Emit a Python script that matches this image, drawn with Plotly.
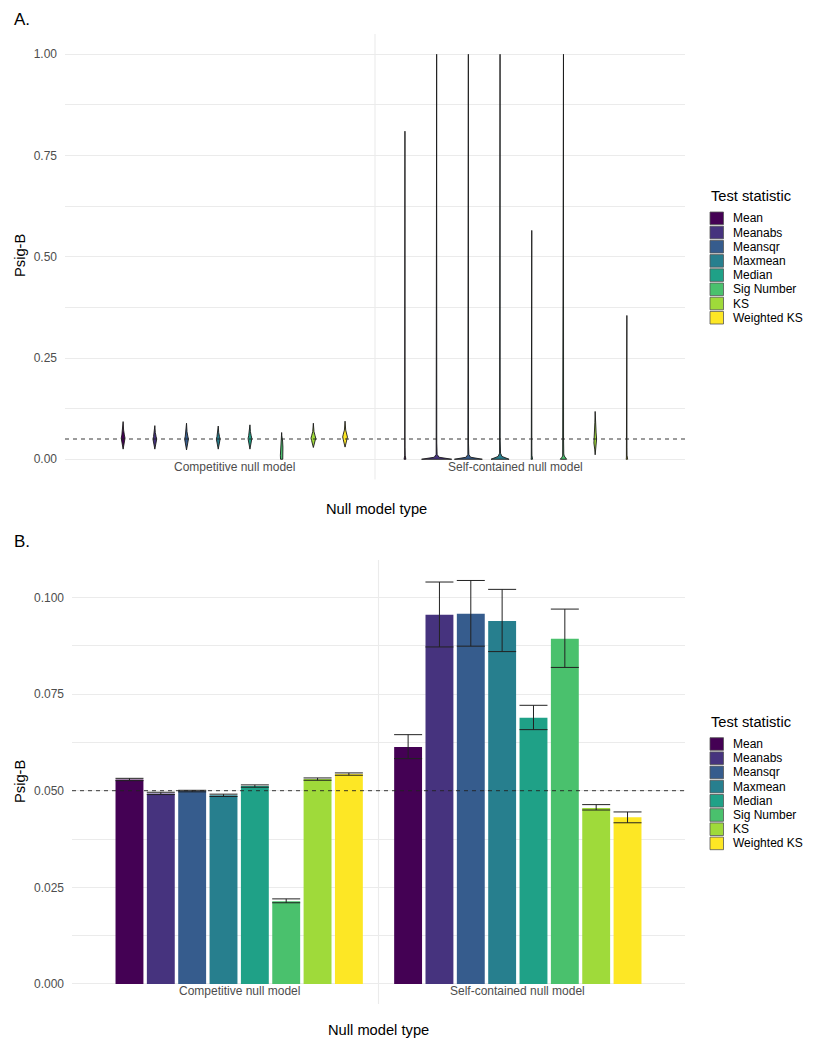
import plotly.graph_objects as go

# ---------------- data ----------------
stats = ["Mean", "Meanabs", "Meansqr", "Maxmean", "Median", "Sig Number", "KS", "Weighted KS"]
colors = ["#440154", "#46337E", "#365C8D", "#277F8E", "#1FA187", "#4AC16D", "#9FDA3A", "#FDE725"]
null_models = ["Competitive null model", "Self-contained null model"]
ref_level = 0.05

# Panel A: violin outlines (y levels and relative half-widths)
viol_comp_y = [
    [0.025, 0.035, 0.045, 0.052, 0.060, 0.072, 0.093],
    [0.025, 0.035, 0.044, 0.050, 0.056, 0.066, 0.083],
    [0.023, 0.034, 0.044, 0.050, 0.057, 0.068, 0.089],
    [0.025, 0.035, 0.044, 0.050, 0.056, 0.066, 0.082],
    [0.025, 0.035, 0.044, 0.051, 0.058, 0.068, 0.085],
    [0.000, 0.010, 0.030, 0.045, 0.050, 0.058, 0.066],
    [0.029, 0.038, 0.046, 0.052, 0.058, 0.068, 0.089],
    [0.030, 0.040, 0.048, 0.055, 0.062, 0.072, 0.094],
]
viol_comp_w = [
    [0, 0.03, 0.08, 0.12, 0.08, 0.03, 0],
    [0, 0.03, 0.09, 0.12, 0.08, 0.03, 0],
    [0, 0.03, 0.09, 0.12, 0.08, 0.03, 0],
    [0, 0.03, 0.09, 0.12, 0.08, 0.03, 0],
    [0, 0.03, 0.09, 0.12, 0.08, 0.03, 0],
    [0.07, 0.08, 0.08, 0.06, 0.03, 0.01, 0],
    [0, 0.04, 0.11, 0.15, 0.11, 0.04, 0],
    [0, 0.04, 0.11, 0.15, 0.11, 0.04, 0],
]
viol_self_y = [
    [0, 0.003, 0.010, 0.030, 0.30, 0.81],
    [0, 0.002, 0.005, 0.012, 0.04, 1.00],
    [0, 0.002, 0.005, 0.012, 0.04, 1.00],
    [0, 0.003, 0.007, 0.015, 0.05, 1.00],
    [0, 0.003, 0.010, 0.030, 0.20, 0.565],
    [0, 0.004, 0.008, 0.013, 0.05, 1.00],
    [0.011, 0.025, 0.040, 0.050, 0.065, 0.090, 0.118],
    [0, 0.003, 0.010, 0.030, 0.15, 0.355],
]
viol_self_w = [
    [0.06, 0.04, 0.015, 0.006, 0.002, 0],
    [0.95, 0.60, 0.15, 0.03, 0.008, 0],
    [0.88, 0.55, 0.14, 0.03, 0.008, 0],
    [0.57, 0.35, 0.12, 0.03, 0.006, 0],
    [0.05, 0.03, 0.010, 0.005, 0.002, 0],
    [0.20, 0.12, 0.05, 0.02, 0.005, 0],
    [0, 0.03, 0.08, 0.09, 0.06, 0.02, 0],
    [0.05, 0.03, 0.010, 0.005, 0.002, 0],
]

# Panel B: mean Psig-B with interval
comp_mean = [0.0529, 0.0493, 0.0499, 0.0488, 0.0512, 0.0214, 0.0530, 0.0543]
comp_lo = [0.0526, 0.0490, 0.0497, 0.0485, 0.0509, 0.0210, 0.0527, 0.0540]
comp_hi = [0.0532, 0.0496, 0.0501, 0.0491, 0.0515, 0.0220, 0.0533, 0.0546]
self_mean = [0.0613, 0.0955, 0.0958, 0.0939, 0.0689, 0.0893, 0.0455, 0.0431]
self_lo = [0.0583, 0.0872, 0.0874, 0.0860, 0.0658, 0.0819, 0.0450, 0.0417]
self_hi = [0.0645, 0.1040, 0.1044, 0.1021, 0.0721, 0.0970, 0.0464, 0.0445]

# ---------------- figure ----------------
OFF = 8                      # page body margin of the html page
SW, SH = 814, 1050           # screen size
W, H = SW - OFF, SH - OFF    # figure size
S_L, S_R, S_T, S_B = 65, 685, 34, 1004   # plot area edges in screen pixels
ML, MR, MT, MB = S_L - OFF, SW - S_R, S_T - OFF, SH - S_B
PW, PH = S_R - S_L, S_B - S_T
FONT = "Liberation Sans, Arial, sans-serif"
GRID = "#EBEBEB"
TICKC = "#4D4D4D"


def px_x(p):
    return (p - S_L) / PW


def px_y(p):
    return (S_B - p) / PH


fig = go.Figure()
n = len(stats)
slot = 0.9 / n

# violins
for k in range(n):
    for ci, (ys, ws) in enumerate([(viol_comp_y[k], viol_comp_w[k]), (viol_self_y[k], viol_self_w[k])]):
        xc = (ci + 1) + (k - (n - 1) / 2) * slot
        xs = [xc + w * slot / 2 for w in ws] + [xc - w * slot / 2 for w in reversed(ws)]
        yy = list(ys) + list(reversed(ys))
        fig.add_trace(go.Scatter(
            x=xs + [xs[0]], y=yy + [yy[0]], mode="lines", fill="toself",
            fillcolor=colors[k], line=dict(color="#1a1a1a", width=0.9),
            xaxis="x", yaxis="y", showlegend=False, hoverinfo="skip"))

# bars
for k in range(n):
    means = [comp_mean[k], self_mean[k]]
    his = [comp_hi[k], self_hi[k]]
    los = [comp_lo[k], self_lo[k]]
    fig.add_trace(go.Bar(
        x=[1, 2], y=means, name=stats[k], marker=dict(color=colors[k], line=dict(width=0)),
        error_y=dict(type="data", array=[h - m for h, m in zip(his, means)],
                     arrayminus=[m - l for m, l in zip(means, los)],
                     color="#222222", thickness=1, width=14),
        xaxis="x2", yaxis="y2", showlegend=False))

shapes = []
annotations = []

# reference lines and separators
for xa, ya in [("x", "y"), ("x2", "y2")]:
    shapes.append(dict(type="line", xref=xa, yref=ya + " domain", x0=1.5, x1=1.5, y0=0, y1=1,
                       line=dict(color=GRID, width=1.1), layer="below"))
    shapes.append(dict(type="line", xref=xa + " domain", yref=ya, x0=0, x1=1, y0=ref_level, y1=ref_level,
                       line=dict(color="#222222", width=0.9, dash="4px,4px"), layer="above"))
    for ci, lab in enumerate(null_models):
        annotations.append(dict(text=lab, xref=xa, yref=ya + " domain", x=ci + 1, y=0,
                                yanchor="middle", xanchor="center", yshift=13, showarrow=False,
                                font=dict(size=12, color=TICKC, family=FONT)))

# panel letters, axis titles
for lab, py in [("A.", 19), ("B.", 541)]:
    annotations.append(dict(text=lab, xref="paper", yref="paper", x=px_x(13), y=px_y(py),
                            xanchor="left", yanchor="middle", showarrow=False, borderpad=0,
                            font=dict(size=17, color="black", family=FONT)))
for py in [256, 782]:
    annotations.append(dict(text="Psig-B", xref="paper", yref="paper", x=px_x(20), y=px_y(py),
                            xanchor="center", yanchor="middle", textangle=-90, showarrow=False,
                            font=dict(size=14.7, color="black", family=FONT)))
for px, py in [(376, 509), (378, 1030)]:
    annotations.append(dict(text="Null model type", xref="paper", yref="paper", x=px_x(px), y=px_y(py),
                            xanchor="center", yanchor="middle", showarrow=False,
                            font=dict(size=14.7, color="black", family=FONT)))

# manual legends
PITCH = 14.2
for first in [218.3, 744.0]:
    annotations.append(dict(text="Test statistic", xref="paper", yref="paper", x=px_x(709), y=px_y(first - 22),
                            xanchor="left", yanchor="middle", showarrow=False,
                            font=dict(size=14.7, color="black", family=FONT)))
    for k in range(n):
        cy = first + k * PITCH
        shapes.append(dict(type="rect", xref="paper", yref="paper",
                           x0=px_x(710), x1=px_x(723.5), y0=px_y(cy + 6.3), y1=px_y(cy - 6.3),
                           fillcolor=colors[k], line=dict(color="#555555", width=0.8)))
        annotations.append(dict(text=stats[k], xref="paper", yref="paper", x=px_x(731), y=px_y(cy),
                                xanchor="left", yanchor="middle", showarrow=False,
                                font=dict(size=12, color="black", family=FONT)))

axis_common = dict(showline=False, zeroline=False, ticks="", tickfont=dict(size=12, color=TICKC, family=FONT))

fig.update_layout(
    width=W, height=H, margin=dict(l=ML, r=MR, t=MT, b=MB, autoexpand=False),
    paper_bgcolor="white", plot_bgcolor="white",
    font=dict(family=FONT),
    barmode="group", bargap=0.1, bargroupgap=0.11,
    showlegend=False,
    xaxis=dict(domain=[0, 1], anchor="y", range=[0.4, 2.6], showgrid=False,
               showticklabels=False, **axis_common),
    yaxis=dict(domain=[px_y(479.5), 1], anchor="x", range=[-0.05, 1.05],
               tickvals=[0, 0.25, 0.5, 0.75, 1.0], tickformat=".2f",
               showgrid=True, gridcolor=GRID, gridwidth=1.1, ticklabelstandoff=7,
               minor=dict(dtick=0.125, tick0=0, showgrid=True, gridcolor=GRID, gridwidth=0.6),
               **axis_common),
    xaxis2=dict(domain=[px_x(72), 1], anchor="y2", range=[0.4, 2.6], showgrid=False,
                showticklabels=False, **axis_common),
    yaxis2=dict(domain=[0, px_y(560)], anchor="x2", range=[-0.0052, 0.1097],
                tickvals=[0, 0.025, 0.05, 0.075, 0.1], tickformat=".3f",
                showgrid=True, gridcolor=GRID, gridwidth=1.1, ticklabelstandoff=7,
                minor=dict(dtick=0.0125, tick0=0, showgrid=True, gridcolor=GRID, gridwidth=0.6),
                **axis_common),
    shapes=shapes, annotations=annotations,
)

fig.write_html("out.html")
